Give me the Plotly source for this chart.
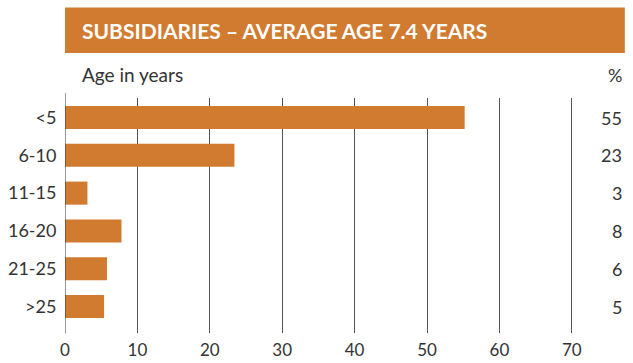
import plotly.graph_objects as go

# Age distribution of subsidiaries (share in %)
age_groups = ["<5", "6-10", "11-15", "16-20", "21-25", ">25"]
shares = [55.2, 23.4, 3.1, 7.8, 5.8, 5.4]
x_ticks = [0, 10, 20, 30, 40, 50, 60, 70]

title_text = "SUBSIDIARIES – AVERAGE AGE 7.4 YEARS"
axis_caption = "Age in years"
unit_caption = "%"

ORANGE = "#D17B30"
TEXT = "#333333"
FONT = "Lato"

fig = go.Figure()
fig.add_trace(go.Bar(
    x=shares,
    y=age_groups,
    orientation="h",
    marker=dict(color=ORANGE, line=dict(width=0)),
    hoverinfo="x+y",
))

# percentage labels on the right side
for grp, val in zip(age_groups, shares):
    fig.add_annotation(
        x=1.0295, xref="paper", y=grp, yref="y",
        text=f"{val:.0f}", showarrow=False,
        xanchor="right", yanchor="middle",
        font=dict(family=FONT, size=18, color=TEXT),
    )

# header band with title
fig.add_shape(type="rect", xref="paper", yref="paper",
              x0=0, x1=1.031, y0=1.1915, y1=1.385,
              fillcolor=ORANGE, line=dict(width=0), layer="below")
fig.add_annotation(x=0.027, xref="paper", y=1.287, yref="paper",
                   text=f"<b>{title_text}</b>", showarrow=False,
                   xanchor="left", yanchor="middle",
                   font=dict(family=FONT, size=21, color="white"))
fig.add_annotation(x=0.027, xref="paper", y=1.098, yref="paper",
                   text=axis_caption, showarrow=False,
                   xanchor="left", yanchor="middle",
                   font=dict(family=FONT, size=19, color=TEXT))
fig.add_annotation(x=1.0295, xref="paper", y=1.098, yref="paper",
                   text=unit_caption, showarrow=False,
                   xanchor="right", yanchor="middle",
                   font=dict(family=FONT, size=18, color=TEXT))

# vertical baseline at zero
fig.add_shape(type="line", xref="x", yref="paper",
              x0=0, x1=0, y0=-0.002, y1=1.021,
              line=dict(color=TEXT, width=1))

fig.update_layout(
    width=633, height=363,
    margin=dict(l=65, r=25, t=98, b=30),
    paper_bgcolor="white", plot_bgcolor="white",
    showlegend=False,
    bargap=0.39,
    font=dict(family=FONT, size=18, color=TEXT),
    xaxis=dict(
        range=[0, 75], tickvals=x_ticks, ticktext=[str(v) for v in x_ticks],
        showgrid=True, gridcolor="#555555", gridwidth=1,
        zeroline=False, showline=False, automargin=False,
        ticks="outside", ticklen=2, tickcolor="rgba(0,0,0,0)",
        tickfont=dict(family=FONT, size=17, color=TEXT),
    ),
    yaxis=dict(
        type="category", categoryorder="array", categoryarray=age_groups,
        range=[5.70, -0.516], automargin=False,
        showgrid=False, zeroline=False, showline=False,
        ticks="outside", ticklen=4, tickcolor="rgba(0,0,0,0)",
        tickfont=dict(family=FONT, size=18, color=TEXT),
    ),
)

fig.write_html("out.html")
